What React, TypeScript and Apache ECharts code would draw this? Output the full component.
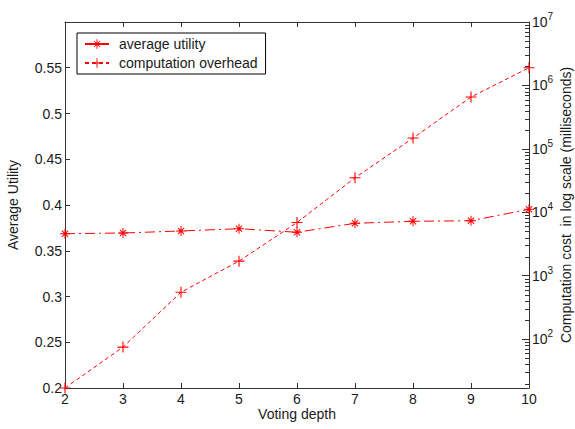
import React, { useEffect, useRef } from "react";
import * as echarts from "echarts";

const depths = [2, 3, 4, 5, 6, 7, 8, 9, 10];
const averageUtility = [0.3686, 0.3694, 0.3716, 0.3741, 0.3702, 0.38, 0.3822, 0.3828, 0.3953];
const computationOverhead = [17, 75, 550, 1700, 6900, 35000, 148000, 656000, 1900000];
const seriesNames = ["average utility", "computation overhead"];
const leftAxisRange = { min: 0.2, max: 0.6, interval: 0.05 };
const rightAxisRange = { min: 17, max: 10000000 };
// minor tick positions of the log axis (multiples 2..9 of each decade)
const logDecades = [10, 100, 1000, 10000, 100000, 1000000];
const logMultiples = [2, 3, 4, 5, 6, 7, 8, 9];

const FONT = "'Liberation Sans', Arial, sans-serif";
const RED = "#ff0000";
const AXIS = "#333333";
const TEXT = "#1a1a1a";
const FS = 14;

const PLUS = "path://M4.5,0H5.5V10H4.5Z M0,4.5H10V5.5H0Z";
const STAR =
  "path://M4.5,0H5.5V10H4.5Z M0,4.5H10V5.5H0Z M1.5,2.2L2.2,1.5L8.5,7.8L7.8,8.5Z M7.8,1.5L8.5,2.2L2.2,8.5L1.5,7.8Z M3.5,3.5H6.5V6.5H3.5Z";

export default function App() {
  const ref = useRef<HTMLDivElement>(null);
  useEffect(() => {
    document.body.style.margin = "0";
    const chart = echarts.init(ref.current!, null, { renderer: "svg" });
    const minorValues: number[] = [];
    logDecades.forEach((d) =>
      logMultiples.forEach((m) => {
        const v = d * m;
        if (v > rightAxisRange.min && v < rightAxisRange.max) minorValues.push(v);
      })
    );
    const xMax = depths[depths.length - 1];
    chart.setOption({
      animation: false,
      backgroundColor: "#ffffff",
      textStyle: { fontFamily: FONT },
      grid: {
        left: 65,
        right: 46,
        top: 22,
        bottom: 41,
        containLabel: false,
        outerBoundsMode: "none",
      },
      legend: {
        left: 77,
        top: 33,
        orient: "vertical",
        data: [
          { name: seriesNames[0], lineStyle: { type: "solid" } },
          { name: seriesNames[1] },
        ],
        backgroundColor: "#ffffff",
        borderColor: "#000000",
        borderWidth: 1,
        borderRadius: 0,
        padding: [4, 8, 4, 7],
        itemWidth: 24,
        itemHeight: 12,
        itemGap: 5,
        textStyle: { fontSize: FS, color: TEXT, fontFamily: FONT, padding: [0, 0, 0, 5] },
      },
      xAxis: [
        {
          type: "value",
          position: "bottom",
          min: 2,
          max: 10,
          interval: 1,
          name: "Voting depth",
          nameLocation: "middle",
          nameGap: 19,
          nameMoveOverlap: false,
          nameTextStyle: { fontSize: FS, color: TEXT, fontFamily: FONT },
          axisLine: { lineStyle: { color: AXIS, width: 1 } },
          axisTick: { inside: true, length: 5, lineStyle: { color: AXIS } },
          axisLabel: { fontSize: FS, color: TEXT, margin: 4, fontFamily: FONT },
          splitLine: { show: false },
        },
        {
          type: "value",
          position: "top",
          min: 2,
          max: 10,
          interval: 1,
          axisLine: { lineStyle: { color: AXIS, width: 1 } },
          axisTick: { inside: true, length: 5, lineStyle: { color: AXIS } },
          axisLabel: { show: false },
          splitLine: { show: false },
        },
      ],
      yAxis: [
        {
          type: "value",
          position: "left",
          min: leftAxisRange.min,
          max: leftAxisRange.max,
          interval: leftAxisRange.interval,
          name: "Average Utility",
          nameLocation: "middle",
          nameRotate: 90,
          nameGap: 45,
          nameMoveOverlap: false,
          nameTextStyle: { fontSize: FS, color: TEXT, fontFamily: FONT },
          axisLine: { show: true, lineStyle: { color: AXIS, width: 1 } },
          axisTick: { show: true, inside: true, length: 5, lineStyle: { color: AXIS } },
          axisLabel: {
            fontSize: FS,
            color: TEXT,
            margin: 3,
            fontFamily: FONT,
            formatter: (v: number) => (v > 0.59 ? "" : String(parseFloat(v.toFixed(2)))),
          },
          splitLine: { show: false },
        },
        {
          type: "log",
          logBase: 10,
          position: "right",
          min: rightAxisRange.min,
          max: rightAxisRange.max,
          name: "Computation cost  in log scale (milliseconds)",
          nameLocation: "middle",
          nameRotate: 90,
          nameGap: 30,
          nameMoveOverlap: false,
          nameTextStyle: { fontSize: FS, color: TEXT, fontFamily: FONT },
          axisLine: { show: true, lineStyle: { color: AXIS, width: 1 } },
          axisTick: { show: true, inside: true, length: 7, lineStyle: { color: AXIS } },
          axisLabel: {
            margin: 3,
            color: TEXT,
            fontFamily: FONT,
            formatter: (v: number) => {
              const e = Math.log10(v);
              const r = Math.round(e);
              if (Math.abs(e - r) < 1e-6 && r >= 2) return `{b|10}{s|${r}}`;
              return "";
            },
            rich: {
              b: { fontSize: FS, color: TEXT, fontFamily: FONT },
              s: { fontSize: 10, color: TEXT, fontFamily: FONT, padding: [0, 0, 11, 0] },
            },
          },
          splitLine: { show: false },
        },
      ],
      series: [
        {
          name: seriesNames[0],
          type: "line",
          xAxisIndex: 0,
          yAxisIndex: 0,
          clip: false,
          data: depths.map((d, i) => [d, averageUtility[i]]),
          symbol: STAR,
          symbolSize: 10,
          itemStyle: { color: RED },
          lineStyle: { color: RED, width: 1, type: [10, 4, 2, 4] },
        },
        {
          name: seriesNames[1],
          type: "line",
          xAxisIndex: 0,
          yAxisIndex: 1,
          clip: false,
          data: depths.map((d, i) => [d, computationOverhead[i]]),
          symbol: PLUS,
          symbolSize: 11,
          itemStyle: { color: RED },
          lineStyle: { color: RED, width: 1, type: [4, 3] },
        },
      ],
    });

    // minor ticks of the log axis, positioned through the axis scale
    const xPix = Number(chart.convertToPixel({ xAxisIndex: 0 }, xMax));
    const tickEls: any[] = [];
    minorValues.forEach((v) => {
      const y = Number(chart.convertToPixel({ yAxisIndex: 1 }, v));
      if (!isFinite(y) || !isFinite(xPix)) return;
      tickEls.push({
        type: "rect",
        silent: true,
        shape: { x: xPix - 4, y: Math.round(y), width: 4, height: 1 },
        style: { fill: AXIS },
        z: 10,
      });
    });
    chart.setOption({ graphic: { elements: tickEls } });

    return () => chart.dispose();
  }, []);
  return (
    <div
      ref={ref}
      style={{ position: "fixed", left: 0, top: 0, width: 575, height: 429, background: "#fff" }}
    />
  );
}
